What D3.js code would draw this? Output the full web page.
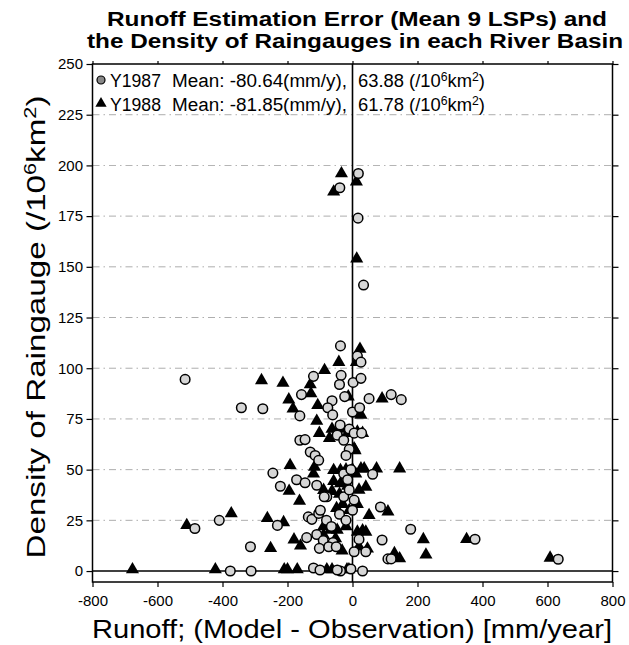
<!DOCTYPE html>
<html><head><meta charset="utf-8">
<script src="https://cdn.jsdelivr.net/npm/d3@7"></script>
<style>body{margin:0;background:#fff}text{font-family:"Liberation Sans",Arial,sans-serif}</style>
</head><body><svg id="c" width="629" height="645"></svg>
<script>
const xTicks = [-800,-600,-400,-200,0,200,400,600,800];
const yTicks = [0,25,50,75,100,125,150,175,200,225,250];
const gridTicks = [25,50,75,100,125,150,175,200,225];

// Y1987 : [runoff error, gauge density]
const y1987 = [
 [18,196],[-39,189],[17,174],[34,141],
 [-37,111],[15,106],[26,103],[-35,96.5],[-40,92],[2,93],[26,95],[-120,96],[-157,87],[-515,94.5],[-342,80.5],[-276,80],
 [51,85],[119,87],[150,84.5],[-63,84],[-76,80.5],[-61,77],[0,78.4],[22,80.5],[-162,76.5],[-24,86],
 [-47,67],[-27,64.5],[-10,70],[5,68],[28,68],[-38,72],
 [-162,64.5],[-146,64.8],[-130,58.7],[-115,57],[-104,54.6],[-10,60],[-20,57],
 [-245,48.3],[-27,48],[62,47.7],[-5,50],[-15,45],
 [-222,41.8],[-172,45],[-146,43.5],[-110,42.3],[-79,36.6],[-87,36.6],[-27,36.6],[-10,40],[5,35],
 [-410,25],[-485,21],[-231,22.5],[-136,26.7],[-125,25.5],[-104,28.4],[-99,30],[-80,25],[-65,22],[-40,28],[-20,25],[0,30],[86,31.6],
 [179,20.6],[91,15.3],[20,15.6],[-141,16.5],[-110,18],[-90,15],[-60,14],[-314,12],[-102,11.2],[-73,12],[-50,12],[5,9.5],[41,9.5],[109,6],[119,6],[377,15.7],[633,5.8],
 [-376,0],[-312,0],[-120,1.5],[-100,0.5],[-37,0],[-47,0.5],[31,0],[-5,1]
];
// Y1988
const y1988 = [
 [-34,196],[12,192],[-58,187],[13,154],
 [23,109.5],[-42,103],[12,103],[-86,99],[-280,94],[-214,92.7],[-130,92],[-128,87.5],[-13,86],[91,85],[-196,84.5],[-183,80],[-107,81.7],[26,77],[15,77.6],[-110,74],[-102,68],[-63,70],[-71,65.5],[-47,68.6],[-30,70],[-15,68],[15,68.6],[31,68],[5,60.4],[8,59.5],
 [-120,48],[-117,51.3],[-192,52.2],[-58,49.7],[-37,49.7],[-20,50],[0,50],[10,48],[26,50.5],[36,50.5],[74,50.5],[145,50.5],
 [-58,44.3],[-37,43.2],[-195,39.5],[-89,39.9],[-63,39.4],[-40,38],[-15,42],[20,40],[41,41.5],
 [-163,34.5],[-49,31],[-30,33],[-10,30],[15,33],[109,29.3],[51,27.5],
 [-510,22.6],[-373,28.4],[-262,26],[-212,24],[-89,22],[-68,20.2],[-47,20.2],[-20,22],[15,19.3],[31,20],[41,19.3],[218,15.6],[351,15.7],
 [-180,15.5],[-160,12.5],[-252,11.2],[-89,17.7],[-52,16],[-32,10],[20,12],[46,11],[129,8.7],[145,6.2],[226,8],[608,6.5],
 [-677,0.8],[-422,0.8],[-210,0.8],[-200,0.8],[-170,0.8],[-79,0.8],[-63,0.8],[-17,0.8],[-11,0.8]
];
const legendRows = [
 {name:"Y1987", mean:"-80.64", dens:"63.88", shape:"circle"},
 {name:"Y1988", mean:"-81.85", dens:"61.78", shape:"triangle"}
];

const svg = d3.select("#c");
const x = d3.scaleLinear().domain([-800,800]).range([92.5,612.5]);
const y = d3.scaleLinear().domain([-5.4,250]).range([582,64]);

// grid
svg.append("g").selectAll("line").data(gridTicks).join("line")
  .attr("x1",x(-800)).attr("x2",x(800)).attr("y1",d=>y(d)).attr("y2",d=>y(d))
  .attr("stroke","#555").attr("stroke-width",0.8).attr("stroke-dasharray","7,4,1.5,4").attr("opacity",0.6);

// axes
const fmt = d=>d;
const gx = svg.append("g").attr("transform",`translate(0,${y(-5.4)})`)
  .call(d3.axisBottom(x).tickValues(xTicks).tickSize(5).tickPadding(8).tickFormat(fmt));
const gy = svg.append("g").attr("transform",`translate(${x(-800)},0)`)
  .call(d3.axisLeft(y).tickValues(yTicks).tickSize(6).tickPadding(3.5).tickFormat(fmt));
const gr = svg.append("g").attr("transform",`translate(${x(800)},0)`)
  .call(d3.axisRight(y).tickValues(yTicks).tickSize(6).tickFormat(""));
const gt = svg.append("g").attr("transform",`translate(0,${y(250)})`)
  .call(d3.axisTop(x).tickValues(xTicks).tickSize(3).tickFormat(""));
[gx,gy,gr,gt].forEach(g=>{
  g.select(".domain").remove();
  g.selectAll(".tick line").attr("stroke","#000").attr("stroke-width",1.2);
  g.selectAll("text").attr("font-size",15).attr("fill","#000").style("font-family",'"Liberation Sans",Arial,sans-serif');
});

// frame
svg.append("rect").attr("x",x(-800)).attr("y",y(250)).attr("width",x(800)-x(-800)).attr("height",y(-5.4)-y(250))
  .attr("fill","none").attr("stroke","#000").attr("stroke-width",1.5);
// zero lines
svg.append("line").attr("x1",x(0)).attr("x2",x(0)).attr("y1",y(250)).attr("y2",y(-5.4)).attr("stroke","#000").attr("stroke-width",1.6);
svg.append("line").attr("x1",x(-800)).attr("x2",x(800)).attr("y1",y(0)).attr("y2",y(0)).attr("stroke","#000").attr("stroke-width",1.6);

// markers
const tri = d3.symbol().type(d3.symbolTriangle).size(74);
svg.append("g").selectAll("path").data(y1988).join("path")
  .attr("d",tri).attr("transform",d=>`translate(${x(d[0])},${y(d[1])})`).attr("fill","#000");
svg.append("g").selectAll("circle").data(y1987).join("circle")
  .attr("cx",d=>x(d[0])).attr("cy",d=>y(d[1])).attr("r",4.8)
  .attr("fill","#d6d6d6").attr("stroke","#000").attr("stroke-width",1.5);

// legend
const lg = svg.append("g");
legendRows.forEach((r,i)=>{
  const cy = 80 + i*23.5;
  if(r.shape==="circle"){
    lg.append("circle").attr("cx",101).attr("cy",cy).attr("r",4).attr("fill","#888").attr("stroke","#000").attr("stroke-width",1.2);
  } else {
    lg.append("path").attr("d",d3.symbol().type(d3.symbolTriangle).size(55)).attr("transform",`translate(101,${cy})`).attr("fill","#000");
  }
  lg.append("text").attr("x",110).attr("y",cy+7).attr("font-size",18).attr("textLength",51).attr("lengthAdjust","spacingAndGlyphs").text(r.name);
  lg.append("text").attr("x",172).attr("y",cy+7).attr("font-size",18).attr("textLength",175).attr("lengthAdjust","spacingAndGlyphs").text(`Mean: ${r.mean}(mm/y),`);
  const t = lg.append("text").attr("x",358).attr("y",cy+7).attr("font-size",18).attr("textLength",127).attr("lengthAdjust","spacingAndGlyphs");
  t.append("tspan").text(`${r.dens} (/10`);
  t.append("tspan").attr("font-size",12).attr("dy",-6).text("6");
  t.append("tspan").attr("dy",6).text("km");
  t.append("tspan").attr("font-size",12).attr("dy",-6).text("2");
  t.append("tspan").attr("dy",6).text(")");
});

// titles
svg.append("text").attr("x",357).attr("y",26).attr("text-anchor","middle").attr("font-size",19.5).attr("font-weight","bold")
  .attr("textLength",500).attr("lengthAdjust","spacingAndGlyphs").text("Runoff Estimation Error (Mean 9 LSPs) and");
svg.append("text").attr("x",355).attr("y",47.5).attr("text-anchor","middle").attr("font-size",19.5).attr("font-weight","bold")
  .attr("textLength",536).attr("lengthAdjust","spacingAndGlyphs").text("the Density of Raingauges in each River Basin");

// x label
svg.append("text").attr("x",352).attr("y",638).attr("text-anchor","middle").attr("font-size",26)
  .attr("textLength",520).attr("lengthAdjust","spacingAndGlyphs").text("Runoff; (Model - Observation) [mm/year]");
// y label
const yl = svg.append("text").attr("transform","translate(45,327) rotate(-90)").attr("text-anchor","middle").attr("font-size",26)
  .attr("textLength",463).attr("lengthAdjust","spacingAndGlyphs");
yl.append("tspan").text("Density of Raingauge (/10");
yl.append("tspan").attr("font-size",17).attr("dy",-9).text("6");
yl.append("tspan").attr("dy",9).text("km");
yl.append("tspan").attr("font-size",17).attr("dy",-9).text("2");
yl.append("tspan").attr("dy",9).text(")");
</script></body></html>
